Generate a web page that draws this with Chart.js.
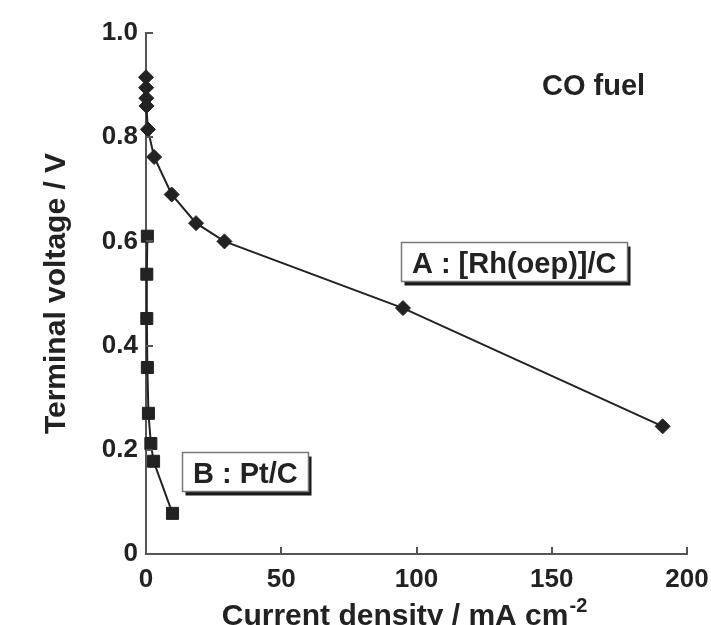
<!DOCTYPE html>
<html>
<head>
<meta charset="utf-8">
<script src="https://cdn.jsdelivr.net/npm/chart.js@4.4.0/dist/chart.umd.min.js"></script>
<style>
  body { margin: 0; background: #fff; }
</style>
</head>
<body>
<canvas id="myChart" width="711" height="625"></canvas>
<script>
// CO fuel cell: terminal voltage vs current density
const rhCurrent = [0, 0.05, 0.1, 0.2, 0.7, 3, 9.5, 18.5, 29, 95, 191];
const rhVoltage = [0.915, 0.895, 0.875, 0.86, 0.815, 0.762, 0.69, 0.635, 0.60, 0.472, 0.245];
const ptCurrent = [0.5, 0.3, 0.3, 0.5, 0.9, 1.8, 2.8, 9.8];
const ptVoltage = [0.61, 0.537, 0.452, 0.358, 0.27, 0.212, 0.178, 0.078];

const xTicks = [0, 50, 100, 150, 200];
const yTicks = [0, 0.2, 0.4, 0.6, 0.8, 1.0];
const yTickLabels = ['0', '0.2', '0.4', '0.6', '0.8', '1.0'];

const FONT = '"Liberation Sans", Arial, sans-serif';
const ink = '#222';
const axisColor = '#555';

// text notes placed in data units
const notes = [
  { text: 'A : [Rh(oep)]/C', x: 98.3, y: 0.539, box: true },
  { text: 'B : Pt/C', x: 17.4, y: 0.1355, box: true },
  { text: 'CO fuel', x: 146.4, y: 0.881, box: false },
];

const toPoints = (xs, ys) => xs.map((v, i) => ({ x: v, y: ys[i] }));

const data = {
  datasets: [
    {
      label: 'A : [Rh(oep)]/C',
      data: toPoints(rhCurrent, rhVoltage),
      borderColor: ink,
      backgroundColor: ink,
      borderWidth: 2,
      pointStyle: 'rectRot',
      pointRadius: 7.5,
      pointBorderWidth: 1,
      tension: 0,
      clip: false,
    },
    {
      label: 'B : Pt/C',
      data: toPoints(ptCurrent, ptVoltage),
      borderColor: ink,
      backgroundColor: ink,
      borderWidth: 2,
      pointStyle: 'rect',
      pointRadius: 8.5,
      pointBorderWidth: 1,
      tension: 0,
      clip: false,
    },
  ],
};

// inward tick marks on both axes
const inwardTicks = {
  id: 'inwardTicks',
  afterDraw(chart) {
    const { ctx, chartArea, scales: { x, y } } = chart;
    ctx.save();
    ctx.strokeStyle = axisColor;
    ctx.lineWidth = 2;
    ctx.beginPath();
    xTicks.slice(1).forEach(v => {
      const px = Math.round(x.getPixelForValue(v));
      ctx.moveTo(px, chartArea.bottom);
      ctx.lineTo(px, chartArea.bottom - 7);
    });
    yTicks.slice(1).forEach(v => {
      const py = Math.round(y.getPixelForValue(v));
      ctx.moveTo(chartArea.left, py);
      ctx.lineTo(chartArea.left + 7, py);
    });
    ctx.stroke();
    ctx.restore();
  },
};

// x axis title with superscript, plus boxed labels
const textLayer = {
  id: 'textLayer',
  afterDraw(chart) {
    const { ctx, chartArea, scales: { x, y } } = chart;
    ctx.save();
    ctx.fillStyle = ink;
    ctx.textBaseline = 'alphabetic';
    ctx.textAlign = 'left';

    // x title
    ctx.font = 'bold 30px ' + FONT;
    const main = 'Current density / mA cm';
    const w1 = ctx.measureText(main).width;
    ctx.font = 'bold 20px ' + FONT;
    const w2 = ctx.measureText('-2').width;
    const cx = (chartArea.left + chartArea.right) / 2 - 12;
    const left = cx - (w1 + w2 + 1) / 2;
    ctx.font = 'bold 30px ' + FONT;
    ctx.fillText(main, left, 625);
    ctx.font = 'bold 20px ' + FONT;
    ctx.fillText('-2', left + w1 + 1, 612);

    // notes
    ctx.font = 'bold 29px ' + FONT;
    notes.forEach(n => {
      const tx = x.getPixelForValue(n.x);
      const ty = y.getPixelForValue(n.y);
      const w = ctx.measureText(n.text).width;
      if (n.box) {
        const bx = Math.round(tx - 11) + 0.5;
        const by = Math.round(ty - 31) + 0.5;
        const bw = Math.round(w + 21);
        const bh = 39;
        ctx.fillStyle = '#1a1a1a';
        ctx.fillRect(bx + 3, by + 4, bw, bh);
        ctx.fillStyle = '#fff';
        ctx.fillRect(bx, by, bw, bh);
        ctx.strokeStyle = '#777';
        ctx.lineWidth = 1.5;
        ctx.strokeRect(bx, by, bw, bh);
        ctx.fillStyle = ink;
      }
      ctx.fillText(n.text, tx, ty);
    });
    ctx.restore();
  },
};

const config = {
  type: 'scatter',
  data: data,
  options: {
    responsive: false,
    animation: false,
    showLine: true,
    layout: {
      padding: { top: 33, right: 24, left: 0, bottom: 0 },
    },
    scales: {
      x: {
        type: 'linear',
        min: 0,
        max: 200,
        afterFit: scale => {
          scale.height = 71;
          scale.paddingLeft = 0;
          scale.paddingRight = 0;
        },
        afterBuildTicks: scale => { scale.ticks = xTicks.map(v => ({ value: v })); },
        grid: { display: false, drawTicks: false },
        border: { display: true, color: axisColor, width: 2 },
        ticks: {
          color: ink,
          padding: 10,
          maxRotation: 0,
          font: { family: FONT, size: 26, weight: 'bold' },
        },
      },
      y: {
        type: 'linear',
        min: 0,
        max: 1,
        afterFit: scale => {
          scale.width = 146;
          scale.paddingTop = 0;
          scale.paddingBottom = 0;
        },
        afterBuildTicks: scale => { scale.ticks = yTicks.map(v => ({ value: v })); },
        grid: { display: false, drawTicks: false },
        border: { display: true, color: axisColor, width: 2 },
        ticks: {
          color: ink,
          padding: 8,
          font: { family: FONT, size: 26, weight: 'bold' },
          callback: (value, index) => yTickLabels[index],
        },
        title: {
          display: true,
          text: 'Terminal voltage / V',
          color: ink,
          padding: { top: 39, bottom: 0 },
          font: { family: FONT, size: 30, weight: 'bold', lineHeight: 1.2 },
        },
      },
    },
    plugins: {
      legend: { display: false },
      tooltip: { enabled: false },
    },
  },
  plugins: [inwardTicks, textLayer],
};

const myChart = new Chart(document.getElementById('myChart'), config);
</script>
</body>
</html>
